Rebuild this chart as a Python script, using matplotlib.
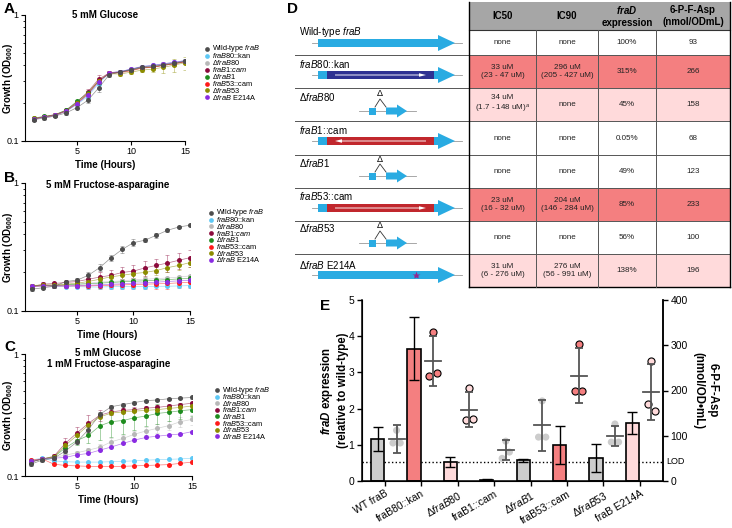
import matplotlib
matplotlib.use('Agg')
import matplotlib.pyplot as plt
import numpy as np
from matplotlib.patches import Rectangle, FancyArrow
from matplotlib.ticker import LogLocator, NullFormatter, FixedLocator, FixedFormatter

plt.rcParams['font.family'] = ['Liberation Sans', 'DejaVu Sans']
plt.rcParams['mathtext.fontset'] = 'custom'
plt.rcParams['mathtext.rm'] = 'Liberation Sans'
plt.rcParams['mathtext.it'] = 'Liberation Sans:italic'
plt.rcParams['mathtext.bf'] = 'Liberation Sans:bold'
plt.rcParams['mathtext.bfit'] = 'Liberation Sans:bold:italic'

# ---------------- data ----------------
hours = [1, 2, 3, 4, 5, 6, 7, 8, 9, 10, 11, 12, 13, 14, 15]

strain_labels = ['Wild-type $\\it{fraB}$', '$\\it{fraB}$80::kan', 'Δ$\\it{fraB80}$',
                 '$\\it{fraB1}$:$\\it{cam}$', 'Δ$\\it{fraB1}$', '$\\it{fraB53}$::cam',
                 'Δ$\\it{fraB53}$', 'Δ$\\it{fraB}$ E214A']
strain_colors = ['#4d4d4d', '#5ec8f5', '#b8b8b8', '#8b0a3c', '#1e8c1e', '#ff1a1a', '#8c8c00', '#8a2be2']

# A: 5 mM glucose
glc_wt = [0.148, 0.152, 0.158, 0.167, 0.184, 0.21, 0.263, 0.336, 0.353, 0.369, 0.387, 0.392, 0.404, 0.416, 0.43]
glc_kan = [0.150, 0.154, 0.160, 0.172, 0.195, 0.225, 0.285, 0.347, 0.355, 0.372, 0.39, 0.398, 0.41, 0.42, 0.435]
glc_d80 = [0.150, 0.155, 0.160, 0.172, 0.198, 0.232, 0.295, 0.347, 0.355, 0.37, 0.388, 0.395, 0.405, 0.418, 0.432]
glc_cam1 = [0.150, 0.156, 0.162, 0.175, 0.204, 0.245, 0.309, 0.347, 0.352, 0.365, 0.382, 0.385, 0.398, 0.41, 0.425]
glc_d1 = [0.152, 0.157, 0.162, 0.176, 0.206, 0.24, 0.30, 0.345, 0.35, 0.365, 0.38, 0.388, 0.4, 0.412, 0.428]
glc_cam53 = [0.150, 0.155, 0.160, 0.173, 0.2, 0.238, 0.3, 0.345, 0.348, 0.36, 0.378, 0.385, 0.398, 0.41, 0.425]
glc_d53 = [0.151, 0.156, 0.161, 0.174, 0.2, 0.236, 0.298, 0.342, 0.340, 0.352, 0.365, 0.372, 0.385, 0.40, 0.418]
glc_e214 = [0.150, 0.155, 0.160, 0.173, 0.197, 0.232, 0.292, 0.348, 0.356, 0.372, 0.39, 0.398, 0.41, 0.422, 0.435]
glc_err = {
    0: [0.004, 0.004, 0.004, 0.005, 0.006, 0.008, 0.02, 0.012, 0.008, 0.008, 0.008, 0.008, 0.008, 0.008, 0.01],
    3: [0.004, 0.004, 0.004, 0.006, 0.008, 0.015, 0.028, 0.01, 0.008, 0.008, 0.008, 0.01, 0.01, 0.01, 0.01],
    6: [0.004, 0.004, 0.004, 0.005, 0.006, 0.008, 0.01, 0.01, 0.01, 0.012, 0.012, 0.02, 0.04, 0.05, 0.05],
}

# B: 5 mM fructose-asparagine
fa_wt = [0.148, 0.152, 0.156, 0.170, 0.174, 0.19, 0.218, 0.26, 0.303, 0.342, 0.357, 0.39, 0.427, 0.453, 0.468]
fa_kan = [0.155, 0.158, 0.156, 0.155, 0.155, 0.154, 0.154, 0.155, 0.155, 0.155, 0.155, 0.156, 0.156, 0.157, 0.158]
fa_d80 = [0.156, 0.158, 0.158, 0.160, 0.162, 0.165, 0.168, 0.170, 0.172, 0.175, 0.177, 0.179, 0.181, 0.184, 0.188]
fa_cam1 = [0.155, 0.162, 0.164, 0.167, 0.170, 0.177, 0.184, 0.19, 0.2, 0.205, 0.217, 0.227, 0.237, 0.249, 0.261]
fa_d1 = [0.157, 0.158, 0.158, 0.160, 0.162, 0.163, 0.165, 0.167, 0.169, 0.171, 0.172, 0.174, 0.176, 0.178, 0.18]
fa_cam53 = [0.156, 0.157, 0.157, 0.157, 0.157, 0.157, 0.158, 0.159, 0.160, 0.161, 0.162, 0.163, 0.164, 0.166, 0.168]
fa_d53 = [0.158, 0.160, 0.160, 0.162, 0.165, 0.170, 0.177, 0.185, 0.19, 0.196, 0.2, 0.207, 0.218, 0.227, 0.239]
fa_e214 = [0.156, 0.157, 0.157, 0.157, 0.158, 0.159, 0.160, 0.162, 0.163, 0.165, 0.166, 0.168, 0.170, 0.172, 0.174]
fa_err = {
    0: [0.004, 0.004, 0.004, 0.005, 0.006, 0.01, 0.014, 0.015, 0.018, 0.02, 0.012, 0.015, 0.012, 0.01, 0.01],
    3: [0.004, 0.005, 0.005, 0.006, 0.008, 0.012, 0.016, 0.02, 0.022, 0.025, 0.028, 0.03, 0.035, 0.035, 0.04],
    5: [0.004, 0.004, 0.004, 0.005, 0.006, 0.008, 0.01, 0.01, 0.012, 0.012, 0.014, 0.015, 0.016, 0.016, 0.018],
    6: [0.004, 0.004, 0.004, 0.005, 0.006, 0.008, 0.01, 0.012, 0.012, 0.014, 0.014, 0.015, 0.016, 0.018, 0.02],
}

# C: 5 mM glucose + 1 mM fructose-asparagine
mix_wt = [0.125, 0.135, 0.14, 0.16, 0.19, 0.24, 0.32, 0.37, 0.385, 0.40, 0.415, 0.42, 0.43, 0.435, 0.44]
mix_kan = [0.135, 0.14, 0.133, 0.131, 0.13, 0.13, 0.13, 0.131, 0.132, 0.133, 0.135, 0.136, 0.137, 0.138, 0.14]
mix_d80 = [0.13, 0.137, 0.142, 0.148, 0.155, 0.163, 0.172, 0.191, 0.203, 0.22, 0.234, 0.246, 0.259, 0.279, 0.291]
mix_cam1 = [0.13, 0.138, 0.145, 0.185, 0.225, 0.27, 0.315, 0.335, 0.345, 0.35, 0.36, 0.365, 0.375, 0.385, 0.395]
mix_d1 = [0.13, 0.138, 0.143, 0.17, 0.195, 0.215, 0.258, 0.279, 0.285, 0.30, 0.31, 0.326, 0.333, 0.343, 0.35]
mix_cam53 = [0.135, 0.138, 0.125, 0.122, 0.121, 0.12, 0.12, 0.12, 0.12, 0.121, 0.122, 0.123, 0.124, 0.127, 0.13]
mix_d53 = [0.132, 0.138, 0.143, 0.178, 0.215, 0.262, 0.305, 0.328, 0.335, 0.34, 0.345, 0.35, 0.358, 0.365, 0.375]
mix_e214 = [0.132, 0.138, 0.14, 0.142, 0.149, 0.153, 0.163, 0.173, 0.185, 0.197, 0.207, 0.212, 0.217, 0.221, 0.231]
mix_err = {
    0: [0.004, 0.004, 0.005, 0.006, 0.008, 0.012, 0.015, 0.01, 0.008, 0.008, 0.008, 0.008, 0.008, 0.008, 0.01],
    2: [0.004, 0.004, 0.005, 0.005, 0.006, 0.008, 0.01, 0.012, 0.014, 0.016, 0.018, 0.02, 0.022, 0.025, 0.028],
    3: [0.003, 0.004, 0.006, 0.02, 0.025, 0.045, 0.03, 0.02, 0.015, 0.015, 0.015, 0.015, 0.012, 0.012, 0.012],
    4: [0.004, 0.005, 0.006, 0.012, 0.015, 0.03, 0.06, 0.07, 0.065, 0.06, 0.055, 0.06, 0.05, 0.05, 0.04],
}

# D: table
table_header = ['IC50', 'IC90', '$\\mathbfit{fraD}$\nexpression', '6-P-F-Asp\n(nmol/ODmL)']
table_strains = ['Wild-type $\\it{fraB}$', '$\\it{fraB}$80::kan', 'Δ$\\it{fraB}$80', '$\\it{fraB}$1::cam',
                 'Δ$\\it{fraB}$1', '$\\it{fraB}$53::cam', 'Δ$\\it{fraB}$53', 'Δ$\\it{fraB}$ E214A']
ic50 = ['none', '33 uM\n(23 - 47 uM)', '34 uM\n(1.7 - 148 uM)$^{a}$', 'none', 'none',
        '23 uM\n(16 - 32 uM)', 'none', '31 uM\n(6 - 276 uM)']
ic90 = ['none', '296 uM\n(205 - 427 uM)', 'none', 'none', 'none',
        '204 uM\n(146 - 284 uM)', 'none', '276 uM\n(56 - 991 uM)']
frad_pct = ['100%', '315%', '45%', '0.05%', '49%', '85%', '56%', '138%']
asp_val = ['93', '266', '158', '68', '123', '233', '100', '196']
gene_kind = ['wt', 'kan', 'del', 'cam_rev', 'del', 'cam_fwd', 'del', 'point']

# E: fraD expression and 6-P-F-Asp
e_labels = ['WT fraB', 'fraB80::kan', 'Δ$\\it{fraB80}$', 'fraB1::cam', 'Δ$\\it{fraB1}$',
            'fraB53::cam', 'Δ$\\it{fraB53}$', 'fraB E214A']
expr_mean = [1.15, 3.65, 0.52, 0.03, 0.57, 1.0, 0.64, 1.6]
expr_sd = [0.33, 0.87, 0.14, 0.02, 0.05, 0.53, 0.38, 0.3]
asp_mean = [93, 266, 158, 68, 123, 233, 100, 196]
asp_sd = [31, 55, 39, 22, 56, 61, 22, 62]
asp_points = [[112, 84, 84], [329, 232, 239], [205, 135, 137], [88, 50, 64],
              [177, 97, 97], [303, 199, 199], [126, 86, 86], [265, 170, 155]]
lod = 0.525

strong = '#f47f80'
light = '#ffdadb'
grey = '#cccccc'
e_colors = [grey, strong, light, grey, grey, strong, grey, light]
row_shade = ['white', strong, light, 'white', 'white', strong, 'white', light]

W, H = 732, 528
fig = plt.figure(figsize=(W / 100, H / 100), dpi=100)

# overlay axes in pixel units (panel D, legends, letters)
axD = fig.add_axes([0, 0, 1, 1], zorder=-1)
axD.set_xlim(0, W)
axD.set_ylim(H, 0)
axD.axis('off')


def px_rect(x0, y0, x1, y1):
    return [x0 / W, 1 - y1 / H, (x1 - x0) / W, (y1 - y0) / H]


def growth_panel(rect, x0, title, title_y, series, errs, leg):
    ax = fig.add_axes(rect)
    for i in range(len(series)):
        c = strain_colors[i]
        z = 5 if i == 0 else 3
        ax.plot(hours, series[i], '-', color=c, lw=0.5, alpha=0.6, zorder=z)
        if i in errs:
            ax.errorbar(hours, series[i], yerr=errs[i], fmt='none', ecolor=c,
                        elinewidth=0.6, capsize=1.5, capthick=0.6, alpha=0.45, zorder=z)
        ax.plot(hours, series[i], 'o', color=c, ms=3.6, mec='none', zorder=z + 1)
    ax.set_yscale('log')
    ax.set_ylim(0.1, 1)
    ax.set_xlim(x0, 15)
    ax.yaxis.set_major_locator(FixedLocator([0.1, 1]))
    ax.yaxis.set_major_formatter(FixedFormatter(['0.1', '1']))
    ax.yaxis.set_minor_locator(LogLocator(base=10, subs=np.arange(2, 10)))
    ax.yaxis.set_minor_formatter(NullFormatter())
    ax.set_xticks([5, 10, 15])
    ax.tick_params(labelsize=6.5, width=0.8, length=3, pad=1.5)
    ax.tick_params(which='minor', width=0.6, length=1.8)
    for s in ['top', 'right']:
        ax.spines[s].set_visible(False)
    for s in ['left', 'bottom']:
        ax.spines[s].set_linewidth(0.8)
    ax.text(0.5, title_y, title, transform=ax.transAxes, ha='center', va='center',
            fontsize=7, fontweight='bold', linespacing=1.05)
    ax.set_xlabel('Time (Hours)', fontsize=7, fontweight='bold', labelpad=3)
    ax.set_ylabel('Growth (OD$_{\\mathbf{600}}$)', fontsize=7, fontweight='bold')
    # right edge of the rotated label sits at x = 15 px
    ax.yaxis.set_label_coords(-(rect[0] * W - 15) / (rect[2] * W), 0.5)
    # legend drawn by hand so rows sit as tight as in the figure
    lx, ly, dy = leg
    for i, lab in enumerate(strain_labels):
        axD.plot([lx], [ly + i * dy], 'o', color=strain_colors[i], ms=3.4, mec='none')
        axD.text(lx + 5.5, ly + i * dy, lab, fontsize=5.3, va='center', ha='left')
    return ax


axA = growth_panel(px_rect(25, 15, 185, 141), 0.2, '5 mM Glucose', 1.0,
                   [glc_wt, glc_kan, glc_d80, glc_cam1, glc_d1, glc_cam53, glc_d53, glc_e214],
                   glc_err, (207, 49, 6.9))
axB = growth_panel(px_rect(25, 183, 190, 311), 0.4, '5 mM Fructose-asparagine', 0.985,
                   [fa_wt, fa_kan, fa_d80, fa_cam1, fa_d1, fa_cam53, fa_d53, fa_e214],
                   fa_err, (211, 213, 6.7))
axC = growth_panel(px_rect(25, 354, 192, 476), 0.5, '5 mM Glucose\n1 mM Fructose-asparagine', 0.963,
                   [mix_wt, mix_kan, mix_d80, mix_cam1, mix_d1, mix_cam53, mix_d53, mix_e214],
                   mix_err, (217, 390, 6.6))

# ---------------- panel D ----------------
col_edges = [469, 536, 598, 656, 730]
row_edges = [30, 55, 88, 121, 155, 188, 221, 254, 287]
label_y = [32, 64, 97, 130, 163, 196, 228, 265]
gene_y = [43, 75, 111, 141, 176, 208, 243, 275]
blue = '#29abe2'

axD.add_patch(Rectangle((469, 2), 261, 28, color='#a6a6a6', lw=0))
for j, h in enumerate(table_header):
    cx = (col_edges[j] + col_edges[j + 1]) / 2
    axD.text(cx, 16, h, ha='center', va='center', fontsize=7, fontweight='bold', linespacing=1.15)

for r in range(8):
    y0, y1 = row_edges[r], row_edges[r + 1]
    if row_shade[r] != 'white':
        axD.add_patch(Rectangle((469, y0), 261, y1 - y0, color=row_shade[r], lw=0))
    cy = (y0 + y1) / 2
    for j, val in enumerate([ic50[r], ic90[r], frad_pct[r], asp_val[r]]):
        cx = (col_edges[j] + col_edges[j + 1]) / 2
        axD.text(cx, cy, val, ha='center', va='center', fontsize=5.8, linespacing=1.25, color='#222222')
    axD.text(299, label_y[r], table_strains[r], ha='left', va='center', fontsize=7)

for y in row_edges[1:-1]:
    axD.plot([295, 730], [y, y], color='#555555', lw=0.7)
axD.plot([469, 730], [30, 30], color='#333333', lw=0.8)
axD.plot([469, 730], [287, 287], color='black', lw=1.0)
for x in col_edges[1:-1]:
    axD.plot([x, x], [30, 287], color='#555555', lw=0.7)
axD.plot([469, 469], [2, 287], color='black', lw=1.0)
axD.plot([730, 730], [2, 287], color='black', lw=1.0)


def big_arrow(y):
    axD.plot([312, 462], [y, y], color='#999999', lw=0.6, zorder=1)
    axD.add_patch(FancyArrow(318, y, 137, 0, width=8, head_width=16, head_length=17,
                             length_includes_head=True, color=blue, lw=0, zorder=2))


for r, kind in enumerate(gene_kind):
    y = gene_y[r]
    if kind == 'del':
        axD.plot([359, 416], [y, y], color='#999999', lw=0.6, zorder=1)
        axD.add_patch(Rectangle((369, y - 3.5), 7, 7, color=blue, lw=0, zorder=2))
        axD.add_patch(FancyArrow(386, y, 21, 0, width=7, head_width=13, head_length=10,
                                 length_includes_head=True, color=blue, lw=0, zorder=2))
        axD.plot([375, 380, 386], [y - 4, y - 12, y - 4], color='#333333', lw=0.6)
        axD.text(380, y - 17, 'Δ', ha='center', va='center', fontsize=6.5)
    else:
        big_arrow(y)
    if kind == 'kan':
        axD.add_patch(Rectangle((327, y - 4), 107, 8, color='#2e3192', lw=0, zorder=3))
        axD.add_patch(FancyArrow(335, y, 91, 0, width=0.9, head_width=3.5, head_length=7,
                                 length_includes_head=True, color='white', lw=0, zorder=4))
    if kind in ('cam_rev', 'cam_fwd'):
        axD.add_patch(Rectangle((327, y - 4), 107, 8, color='#c1272d', lw=0, zorder=3))
        if kind == 'cam_fwd':
            axD.add_patch(FancyArrow(335, y, 91, 0, width=0.9, head_width=3.5, head_length=7,
                                     length_includes_head=True, color='white', lw=0, zorder=4))
        else:
            axD.add_patch(FancyArrow(426, y, -91, 0, width=0.9, head_width=3.5, head_length=7,
                                     length_includes_head=True, color='white', lw=0, zorder=4))
    if kind == 'point':
        axD.plot([416], [y], marker='*', color='#93278f', ms=6, mec='none', zorder=4)

# panel letters
for letter, (lx, ly) in zip('ABCDE', [(4, 9), (4, 178), (4, 347), (287, 9), (320, 306)]):
    axD.text(lx, ly, letter, fontsize=11, fontweight='bold', ha='left', va='center')

# ---------------- panel E ----------------
e_left, e_right = 362, 663
axE = fig.add_axes(px_rect(e_left, 300, e_right, 481))
xg = np.arange(len(e_labels))
axE.bar(xg - 0.2, expr_mean, width=0.36, color=e_colors, edgecolor='black', lw=1.2, zorder=2)
axE.errorbar(xg - 0.2, expr_mean, yerr=expr_sd, fmt='none', ecolor='black', elinewidth=1,
             capsize=3.5, capthick=1, zorder=3)
axE.axhline(lod, ls=':', color='black', lw=1, zorder=1)
axE.set_ylim(0, 5)
axE.set_xlim(-0.63, 7.64)
axE.set_yticks([0, 1, 2, 3, 4, 5])
axE.set_xticks(xg)
axE.set_xticklabels(e_labels, rotation=30, ha='right', rotation_mode='anchor')
axE.tick_params(labelsize=7.5, width=1, length=3.5, pad=2)
axE.spines['top'].set_visible(False)
for s in ['left', 'bottom', 'right']:
    axE.spines[s].set_linewidth(1.1)
axE.set_ylabel('$\\mathbfit{fraD}$ expression\n(relative to wild-type)', fontsize=8.3,
               fontweight='bold', linespacing=1.2)
axE.yaxis.set_label_coords(-(e_left - 349) / (e_right - e_left), 0.5)

ax2 = axE.twinx()
ax2.set_ylim(0, 400)
ax2.set_yticks([0, 100, 200, 300, 400])
ax2.tick_params(labelsize=7.5, width=1, length=3.5, pad=2)
ax2.spines['top'].set_visible(False)
ax2.spines['right'].set_linewidth(1.1)
jitter = [0, -0.1, 0.1]
for i in range(len(asp_mean)):
    xd = xg[i] + 0.32
    ec = 'none' if e_colors[i] == grey else 'black'
    ax2.scatter([xd + j for j in jitter], asp_points[i], s=26, color=e_colors[i],
                edgecolor=ec, linewidth=0.8, zorder=3)
    ax2.errorbar([xd], [asp_mean[i]], yerr=[asp_sd[i]], fmt='none', ecolor='#555555',
                 elinewidth=1.3, capsize=3, capthick=1.3, zorder=4)
    ax2.plot([xd - 0.22, xd + 0.22], [asp_mean[i], asp_mean[i]], color='#555555', lw=1.3, zorder=4)
ax2.text(7.72, lod, 'LOD', fontsize=6.5, va='center', ha='left', transform=axE.transData)
ax2.set_ylabel('6-P-F-Asp\n(nmol/OD•mL)', fontsize=8.3, fontweight='bold', rotation=270,
               labelpad=22, linespacing=1.2)

fig.savefig('out.png', dpi=100)
